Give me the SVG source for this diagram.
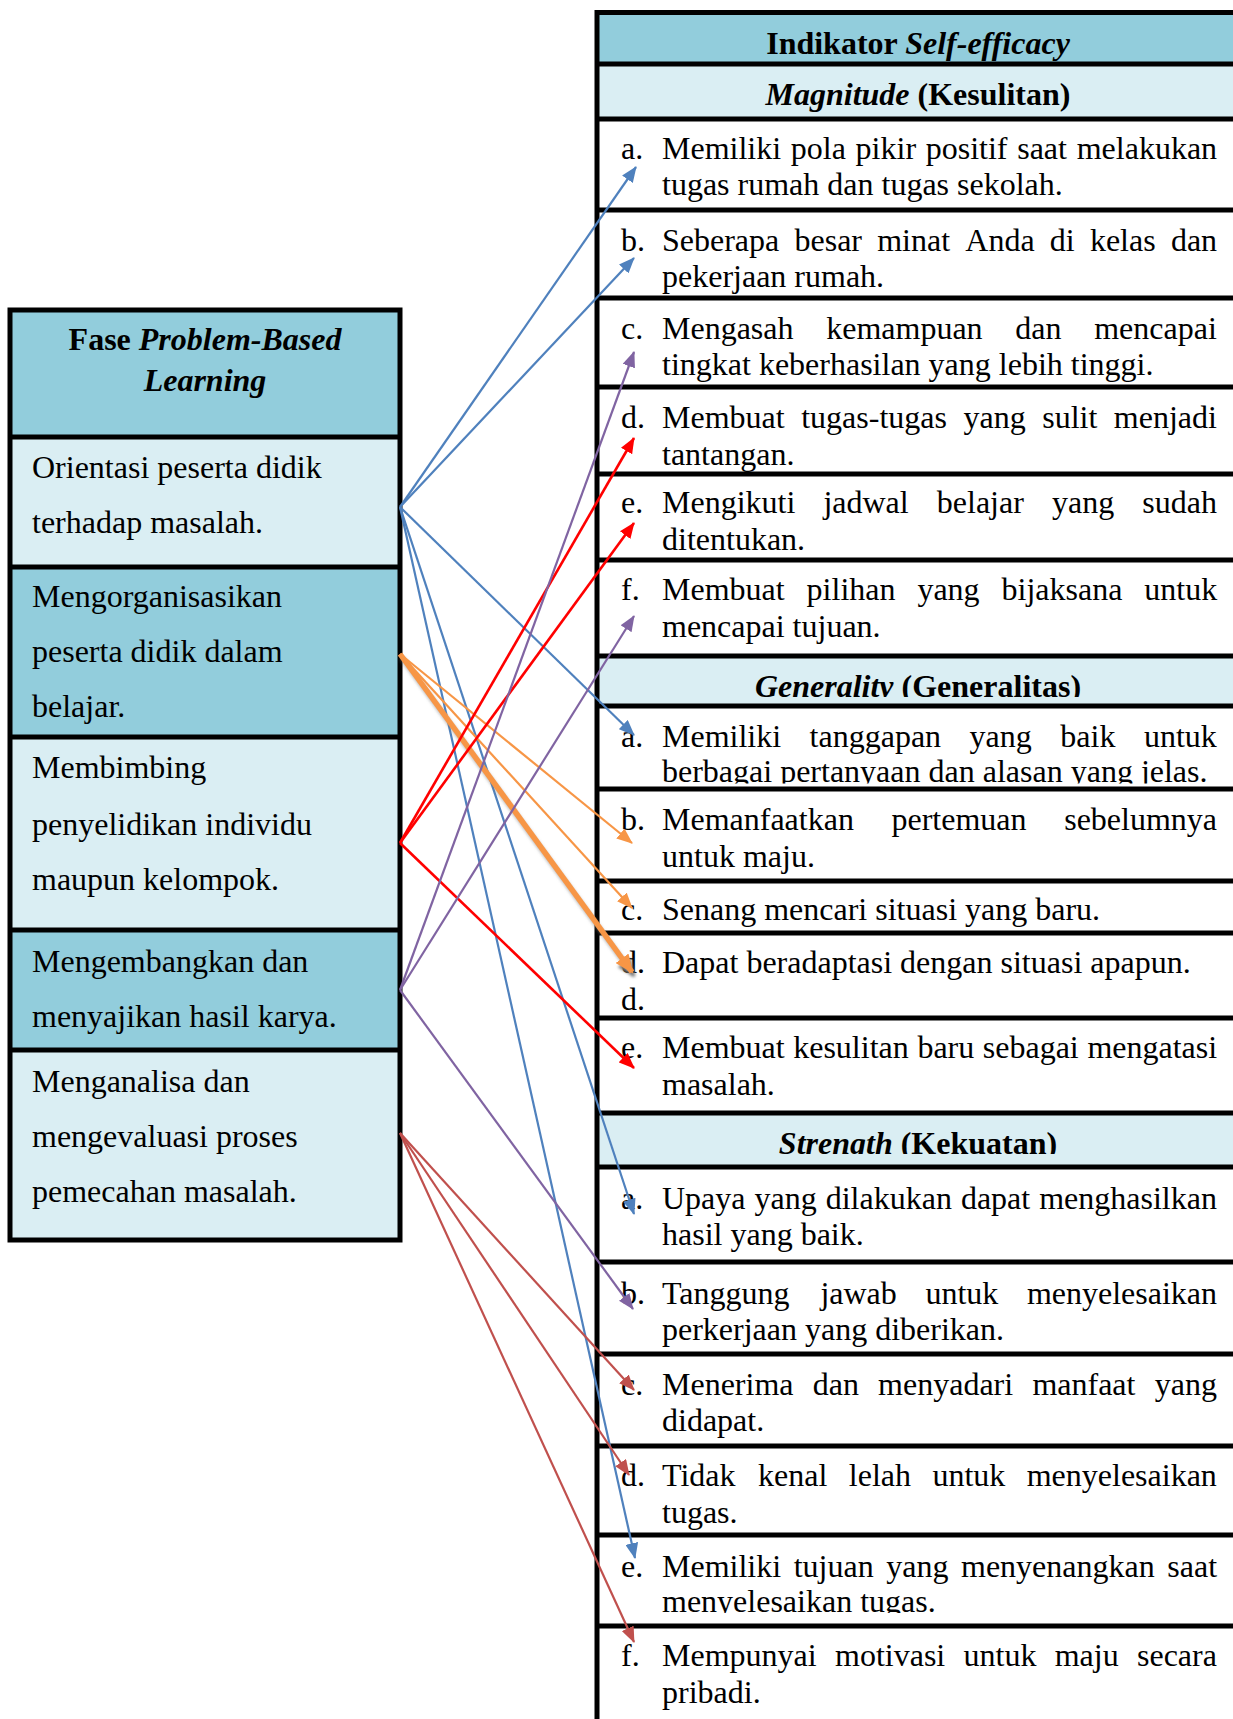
<svg xmlns="http://www.w3.org/2000/svg" width="1233" height="1719" viewBox="0 0 1233 1719">
<style>
.t{font-family:"Liberation Serif","Times New Roman",serif;font-size:32px;fill:#000}
.b{font-weight:bold}
.i{font-style:italic}
.c{text-anchor:middle}
.dark{fill:#92CDDC}
.light{fill:#DAEEF3}
.bd{stroke:#000;stroke-width:5;fill:none}
.ln{fill:none;stroke-width:2.2}
.blue{stroke:#4F81BD}
.orange{stroke:#F79646}
.thick{stroke-width:5.5}
.red{stroke:#FF0000;stroke-width:2.6}
.purple{stroke:#8064A2}
.brown{stroke:#C0504D}
</style>
<defs>
<marker id="aBlue" markerUnits="userSpaceOnUse" markerWidth="16" markerHeight="13" refX="15" refY="6.5" orient="auto"><path d="M0,0 L16,6.5 L0,13 z" fill="#4F81BD"/></marker>
<marker id="aOrange" markerUnits="userSpaceOnUse" markerWidth="16" markerHeight="13" refX="15" refY="6.5" orient="auto"><path d="M0,0 L16,6.5 L0,13 z" fill="#F79646"/></marker>
<marker id="aOrangeBig" markerUnits="userSpaceOnUse" markerWidth="19" markerHeight="16" refX="17" refY="8" orient="auto"><path d="M0,0 L19,8 L0,16 z" fill="#F79646"/></marker>
<marker id="aShadow" markerUnits="userSpaceOnUse" markerWidth="19" markerHeight="16" refX="17" refY="8" orient="auto"><path d="M0,0 L19,8 L0,16 z" fill="#777"/></marker>
<marker id="aRed" markerUnits="userSpaceOnUse" markerWidth="16" markerHeight="13" refX="15" refY="6.5" orient="auto"><path d="M0,0 L16,6.5 L0,13 z" fill="#FF0000"/></marker>
<marker id="aPurple" markerUnits="userSpaceOnUse" markerWidth="16" markerHeight="13" refX="15" refY="6.5" orient="auto"><path d="M0,0 L16,6.5 L0,13 z" fill="#8064A2"/></marker>
<marker id="aBrown" markerUnits="userSpaceOnUse" markerWidth="16" markerHeight="13" refX="15" refY="6.5" orient="auto"><path d="M0,0 L16,6.5 L0,13 z" fill="#C0504D"/></marker>
<filter id="blur" x="380" y="630" width="280" height="370" filterUnits="userSpaceOnUse"><feGaussianBlur stdDeviation="1.8"/></filter>
<clipPath id="clipGen"><rect x="597" y="656" width="640" height="41"/></clipPath>
<clipPath id="clipGenA"><rect x="597" y="706" width="640" height="77.5"/></clipPath>
<clipPath id="clipStr"><rect x="597" y="1113" width="640" height="41"/></clipPath>
<clipPath id="clipStrE"><rect x="597" y="1535" width="640" height="78"/></clipPath>
</defs>
<rect width="1233" height="1719" fill="#FFFFFF"/>

<!-- LEFT TABLE -->
<g id="fase-table">
<g id="fase-header">
<rect class="dark" x="10" y="310" width="390" height="127"/>
<text class="t b c" x="205" y="350">Fase <tspan class="i">Problem-Based</tspan></text>
<text class="t b i c" x="205" y="391">Learning</text>
</g>
<g id="fase-1">
<rect class="light" x="10" y="437" width="390" height="130"/>
<text class="t" x="32" y="478">Orientasi peserta didik</text>
<text class="t" x="32" y="533">terhadap masalah.</text>
</g>
<g id="fase-2">
<rect class="dark" x="10" y="567" width="390" height="170"/>
<text class="t" x="32" y="607">Mengorganisasikan</text>
<text class="t" x="32" y="662">peserta didik dalam</text>
<text class="t" x="32" y="717">belajar.</text>
</g>
<g id="fase-3">
<rect class="light" x="10" y="737" width="390" height="193"/>
<text class="t" x="32" y="778">Membimbing</text>
<text class="t" x="32" y="835">penyelidikan individu</text>
<text class="t" x="32" y="890">maupun kelompok.</text>
</g>
<g id="fase-4">
<rect class="dark" x="10" y="930" width="390" height="120"/>
<text class="t" x="32" y="972">Mengembangkan dan</text>
<text class="t" x="32" y="1027">menyajikan hasil karya.</text>
</g>
<g id="fase-5">
<rect class="light" x="10" y="1050" width="390" height="190"/>
<text class="t" x="32" y="1092">Menganalisa dan</text>
<text class="t" x="32" y="1147">mengevaluasi proses</text>
<text class="t" x="32" y="1202">pemecahan masalah.</text>
</g>
<g id="fase-borders">
<rect class="bd" x="10" y="310" width="390" height="930"/>
<path class="bd" d="M10,437H400M10,567H400M10,737H400M10,930H400M10,1050H400"/>
</g>
</g>

<!-- RIGHT TABLE -->
<g id="indikator-table">
<g id="ind-header">
<rect class="dark" x="597" y="12.5" width="640" height="51.5"/>
<text class="t b c" x="918" y="54">Indikator <tspan class="i">Self-efficacy</tspan></text>
</g>
<g id="magnitude-header">
<rect class="light" x="597" y="64" width="640" height="55"/>
<text class="t b c" x="918" y="105"><tspan class="i">Magnitude</tspan> (Kesulitan)</text>
</g>
<g id="mag-a">
<text class="t" x="621" y="159">a.</text>
<text class="t" y="159"><tspan x="662">Memiliki</tspan><tspan x="790.8">pola</tspan><tspan x="855.6">pikir</tspan><tspan x="925.7">positif</tspan><tspan x="1017.2">saat</tspan><tspan x="1076.7">melakukan</tspan></text>
<text class="t" x="662" y="195">tugas rumah dan tugas sekolah.</text>
</g>
<g id="mag-b">
<text class="t" x="621" y="251">b.</text>
<text class="t" y="251"><tspan x="662">Seberapa</tspan><tspan x="794.5">besar</tspan><tspan x="877.2">minat</tspan><tspan x="965.3">Anda</tspan><tspan x="1049.8">di</tspan><tspan x="1089.9">kelas</tspan><tspan x="1170.9">dan</tspan></text>
<text class="t" x="662" y="287">pekerjaan rumah.</text>
</g>
<g id="mag-c">
<text class="t" x="621" y="339">c.</text>
<text class="t" y="339"><tspan x="662">Mengasah</tspan><tspan x="826.2">kemampuan</tspan><tspan x="1015.3">dan</tspan><tspan x="1094.2">mencapai</tspan></text>
<text class="t" x="662" y="375">tingkat keberhasilan yang lebih tinggi.</text>
</g>
<g id="mag-d">
<text class="t" x="621" y="428">d.</text>
<text class="t" y="428"><tspan x="662">Membuat</tspan><tspan x="801.2">tugas-tugas</tspan><tspan x="963.5">yang</tspan><tspan x="1042.2">sulit</tspan><tspan x="1113.8">menjadi</tspan></text>
<text class="t" x="662" y="465">tantangan.</text>
</g>
<g id="mag-e">
<text class="t" x="621" y="513">e.</text>
<text class="t" y="513"><tspan x="662">Mengikuti</tspan><tspan x="823.4">jadwal</tspan><tspan x="936.8">belajar</tspan><tspan x="1052">yang</tspan><tspan x="1142.3">sudah</tspan></text>
<text class="t" x="662" y="550">ditentukan.</text>
</g>
<g id="mag-f">
<text class="t" x="621" y="600">f.</text>
<text class="t" y="600"><tspan x="662">Membuat</tspan><tspan x="806.6">pilihan</tspan><tspan x="917.4">yang</tspan><tspan x="1001.5">bijaksana</tspan><tspan x="1144.3">untuk</tspan></text>
<text class="t" x="662" y="637">mencapai tujuan.</text>
</g>
<g id="generality-header">
<rect class="light" x="597" y="656" width="640" height="50"/>
<text class="t b c" x="918" y="697" clip-path="url(#clipGen)"><tspan class="i">Generality</tspan> (Generalitas)</text>
</g>
<g id="gen-a">
<text class="t" x="621" y="747">a.</text>
<text class="t" y="747"><tspan x="662">Memiliki</tspan><tspan x="809.6">tanggapan</tspan><tspan x="969.6">yang</tspan><tspan x="1060.3">baik</tspan><tspan x="1143.9">untuk</tspan></text>
<text class="t" x="662" y="782" clip-path="url(#clipGenA)">berbagai pertanyaan dan alasan yang jelas.</text>
</g>
<g id="gen-b">
<text class="t" x="621" y="830">b.</text>
<text class="t" y="830"><tspan x="662">Memanfaatkan</tspan><tspan x="891.5">pertemuan</tspan><tspan x="1064.2">sebelumnya</tspan></text>
<text class="t" x="662" y="867">untuk maju.</text>
</g>
<g id="gen-c">
<text class="t" x="621" y="920">c.</text>
<text class="t" x="662" y="920">Senang mencari situasi yang baru.</text>
</g>
<g id="gen-d">
<text class="t" x="621" y="973">d.</text>
<text class="t" x="662" y="973">Dapat beradaptasi dengan situasi apapun.</text>
<text class="t" x="621" y="1010">d.</text>
</g>
<g id="gen-e">
<text class="t" x="621" y="1058">e.</text>
<text class="t" y="1058"><tspan x="662">Membuat</tspan><tspan x="793.2">kesulitan</tspan><tspan x="917.4">baru</tspan><tspan x="982.8">sebagai</tspan><tspan x="1087.4">mengatasi</tspan></text>
<text class="t" x="662" y="1095">masalah.</text>
</g>
<g id="strength-header">
<rect class="light" x="597" y="1113" width="640" height="54"/>
<text class="t b c" x="918" y="1154" clip-path="url(#clipStr)"><tspan class="i">Strength</tspan> (Kekuatan)</text>
</g>
<g id="str-a">
<text class="t" x="621" y="1209">a.</text>
<text class="t" y="1209"><tspan x="662">Upaya</tspan><tspan x="754.5">yang</tspan><tspan x="825.7">dilakukan</tspan><tspan x="960.9">dapat</tspan><tspan x="1039.2">menghasilkan</tspan></text>
<text class="t" x="662" y="1245">hasil yang baik.</text>
</g>
<g id="str-b">
<text class="t" x="621" y="1304">b.</text>
<text class="t" y="1304"><tspan x="662">Tanggung</tspan><tspan x="820.4">jawab</tspan><tspan x="925.4">untuk</tspan><tspan x="1026.9">menyelesaikan</tspan></text>
<text class="t" x="662" y="1340">perkerjaan yang diberikan.</text>
</g>
<g id="str-c">
<text class="t" x="621" y="1395">c.</text>
<text class="t" y="1395"><tspan x="662">Menerima</tspan><tspan x="812.7">dan</tspan><tspan x="878.1">menyadari</tspan><tspan x="1032.4">manfaat</tspan><tspan x="1154.7">yang</tspan></text>
<text class="t" x="662" y="1431">didapat.</text>
</g>
<g id="str-d">
<text class="t" x="621" y="1486">d.</text>
<text class="t" y="1486"><tspan x="662">Tidak</tspan><tspan x="758.1">kenal</tspan><tspan x="848.8">lelah</tspan><tspan x="932.4">untuk</tspan><tspan x="1026.7">menyelesaikan</tspan></text>
<text class="t" x="662" y="1523">tugas.</text>
</g>
<g id="str-e">
<text class="t" x="621" y="1577">e.</text>
<text class="t" y="1577"><tspan x="662">Memiliki</tspan><tspan x="793.7">tujuan</tspan><tspan x="886.2">yang</tspan><tspan x="961">menyenangkan</tspan><tspan x="1167.3">saat</tspan></text>
<text class="t" x="662" y="1612" clip-path="url(#clipStrE)">menyelesaikan tugas.</text>
</g>
<g id="str-f">
<text class="t" x="621" y="1666">f.</text>
<text class="t" y="1666"><tspan x="662">Mempunyai</tspan><tspan x="835">motivasi</tspan><tspan x="963.5">untuk</tspan><tspan x="1054.7">maju</tspan><tspan x="1137">secara</tspan></text>
<text class="t" x="662" y="1703">pribadi.</text>
</g>
<g id="indikator-borders">
<path class="bd" d="M597,1719V12.5H1240"/>
<path class="bd" d="M597,64H1240M597,119H1240M597,210H1240M597,298H1240M597,387H1240M597,474H1240M597,560H1240M597,656H1240M597,706H1240M597,789H1240M597,881H1240M597,933H1240M597,1018H1240M597,1113H1240M597,1167H1240M597,1262H1240M597,1354H1240M597,1446H1240M597,1535H1240M597,1626H1240"/>
</g>
</g>

<!-- CONNECTORS -->
<g id="connectors">
<g id="conn-blue">
<path class="ln blue" d="M400,507L636,167" marker-end="url(#aBlue)"/>
<path class="ln blue" d="M400,507L634,258" marker-end="url(#aBlue)"/>
<path class="ln blue" d="M400,507L634,735" marker-end="url(#aBlue)"/>
<path class="ln blue" d="M400,507L634,1214" marker-end="url(#aBlue)"/>
<path class="ln blue" d="M400,507L635,1558" marker-end="url(#aBlue)"/>
</g>
<g id="conn-orange">
<path d="M402,658L634,976" fill="none" stroke="#777" style="stroke-width:5.5" stroke-opacity="0.5" filter="url(#blur)" marker-end="url(#aShadow)"/>
<path class="ln orange" d="M400,654L632,843" marker-end="url(#aOrange)"/>
<path class="ln orange" d="M400,654L632,908" marker-end="url(#aOrange)"/>
<path class="ln orange thick" d="M400,654L632,972" marker-end="url(#aOrangeBig)"/>
</g>
<g id="conn-red">
<path class="ln red" d="M400,843L634,438" marker-end="url(#aRed)"/>
<path class="ln red" d="M400,843L634,523" marker-end="url(#aRed)"/>
<path class="ln red" d="M400,843L634,1068" marker-end="url(#aRed)"/>
</g>
<g id="conn-purple">
<path class="ln purple" d="M400,990L634,352" marker-end="url(#aPurple)"/>
<path class="ln purple" d="M400,990L634,616" marker-end="url(#aPurple)"/>
<path class="ln purple" d="M400,990L633,1309" marker-end="url(#aPurple)"/>
</g>
<g id="conn-brown">
<path class="ln brown" d="M400,1133L634,1390" marker-end="url(#aBrown)"/>
<path class="ln brown" d="M400,1133L629,1475" marker-end="url(#aBrown)"/>
<path class="ln brown" d="M400,1133L634,1642" marker-end="url(#aBrown)"/>
</g>
</g>
</svg>
